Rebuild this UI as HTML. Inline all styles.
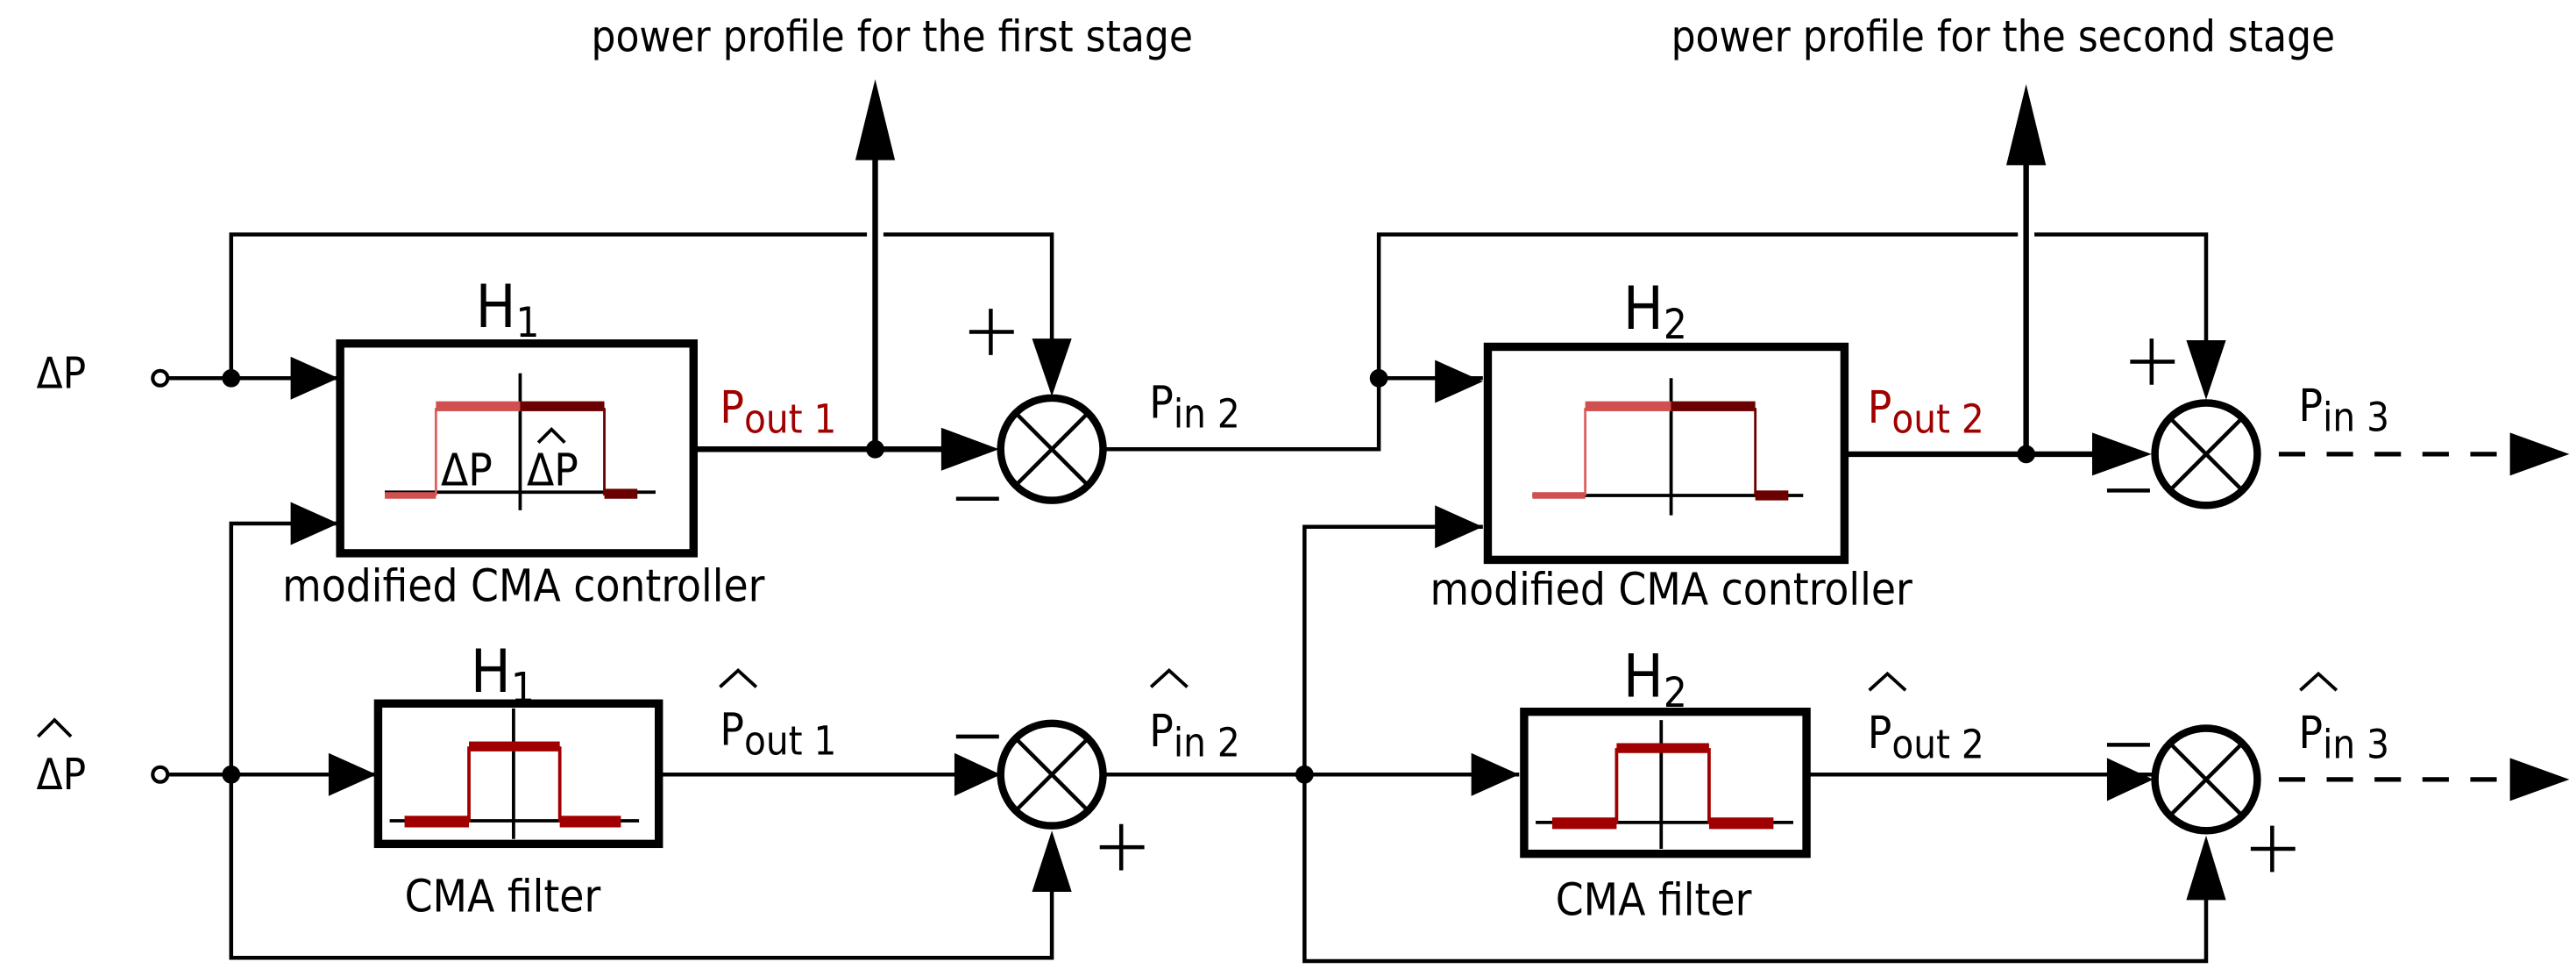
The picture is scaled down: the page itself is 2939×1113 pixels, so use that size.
<!DOCTYPE html>
<html><head><meta charset="utf-8"><style>
html,body{margin:0;padding:0;background:#fff;}
svg{display:block;}
text{font-family:"DejaVu Sans Condensed","Liberation Sans",sans-serif;fill:#000;}
</style></head><body>
<svg width="2939" height="1113" viewBox="0 0 1560 591" preserveAspectRatio="none" xmlns="http://www.w3.org/2000/svg">
<g fill="none" stroke="#000" stroke-width="2.4">
<line x1="100" y1="229" x2="204" y2="229"/>
<path d="M140,229 V142 H525 M535,142 H637 V210"/>
<path d="M140,580 V317 H204"/>
<line x1="100" y1="469" x2="227" y2="469"/>
<path d="M140,469 V580 H637 V512"/>
<line x1="400" y1="469" x2="606" y2="469"/>
<path d="M669,272 H835 V229 H898"/>
<path d="M835,229 V142 H1222 M1232,142 H1336 V210"/>
<path d="M669,469 H920"/>
<path d="M790,469 V319 H898"/>
<path d="M790,469 V582 H1336 V512"/>
<line x1="1096" y1="469" x2="1304" y2="469"/>
</g>
<g fill="#000">
<path d="M176,216 L205,229 L176,242z"/><path d="M176,304 L205,317 L176,330z"/>
<path d="M199,456 L228,469 L199,482z"/>
<path d="M570,259 L605,272 L570,285z"/><path d="M578,456 L606,469 L578,482z"/>
<path d="M625,205 L649,205 L637,240z"/><path d="M625,540 L649,540 L637,503z"/>
<path d="M518,97 L542,97 L530,48z"/>
<path d="M869,218 L898,231 L869,244z"/><path d="M869,306 L898,319 L869,332z"/>
<path d="M891,456 L920,469 L891,482z"/>
<path d="M1267,262 L1303,275 L1267,288z"/><path d="M1276,459 L1304,472 L1276,485z"/>
<path d="M1324,206 L1348,206 L1336,242z"/><path d="M1324,545 L1348,545 L1336,506z"/>
<path d="M1215,100 L1239,100 L1227,51z"/>
<path d="M1520,262 L1556,275 L1520,288z"/><path d="M1520,459 L1556,472 L1520,485z"/>
</g>
<g fill="none" stroke="#000" stroke-width="3.4">
<line x1="422" y1="272" x2="572" y2="272"/>
<line x1="530" y1="272" x2="530" y2="95"/>
<line x1="1119" y1="275" x2="1270" y2="275"/>
<line x1="1227" y1="275" x2="1227" y2="98"/>
</g>
<g stroke="#000" stroke-width="2.8" stroke-dasharray="16,13"><line x1="1380" y1="275" x2="1524" y2="275"/><line x1="1380" y1="472" x2="1524" y2="472"/></g>
<g fill="#000"><circle cx="140" cy="229" r="5.5"/><circle cx="140" cy="469" r="5.5"/><circle cx="530" cy="272" r="5.5"/><circle cx="835" cy="229" r="5.5"/><circle cx="790" cy="469" r="5.5"/><circle cx="1227" cy="275" r="5.5"/></g>
<g fill="#fff" stroke="#000" stroke-width="2.2"><circle cx="97" cy="229" r="4.5"/><circle cx="97" cy="469" r="4.5"/></g>
<g fill="#fff" stroke="#000" stroke-width="4.5">
<circle cx="637" cy="272" r="31"/><circle cx="637" cy="469" r="31"/>
<circle cx="1336" cy="275" r="31"/><circle cx="1336" cy="472" r="31"/>
</g>
<g stroke="#000" stroke-width="2.4">
<path d="M615,250 L659,294 M659,250 L615,294"/><path d="M615,447 L659,491 M659,447 L615,491"/>
<path d="M1314,253 L1358,297 M1358,253 L1314,297"/><path d="M1314,450 L1358,494 M1358,450 L1314,494"/>
</g>
<g stroke="#000" stroke-width="2.4">
<path d="M587,201 H614 M600,187 V215"/><path d="M579,302 H605"/>
<path d="M1290,219 H1317 M1303,205 V233"/><path d="M1276,297 H1302"/>
<path d="M579,446 H605"/><path d="M666,513 H693 M679,499 V527"/>
<path d="M1276,451 H1302"/><path d="M1363,514 H1390 M1376,500 V528"/>
</g>
<g fill="#fff" stroke="#000" stroke-width="5">
<rect x="206" y="208" width="214" height="127"/>
<rect x="229" y="426" width="170" height="85"/>
<rect x="901" y="210" width="216" height="129"/>
<rect x="923" y="431" width="171" height="86"/>
</g>
<g stroke="#000" stroke-width="2"><line x1="233" y1="298" x2="397" y2="298"/><line x1="315" y1="226" x2="315" y2="309"/></g>
<path d="M264,300 V247" stroke="#e06060" stroke-width="1.5" fill="none"/>
<path d="M366,247 V300" stroke="#6b0000" stroke-width="1.5" fill="none"/>
<rect x="233" y="298" width="31" height="4" fill="#d05050"/>
<rect x="264" y="243" width="51" height="6" fill="#d05050"/>
<rect x="315" y="243" width="51" height="6" fill="#6b0000"/>
<rect x="366" y="296" width="20" height="6" fill="#6b0000"/>
<text x="267" y="294" font-size="27">ΔP</text>
<text x="319" y="294" font-size="27">ΔP</text>
<path d="M326,268 L334,260 L342,268" stroke="#000" stroke-width="2" fill="none"/>
<g stroke="#000" stroke-width="2"><line x1="928" y1="300" x2="1092" y2="300"/><line x1="1012" y1="229" x2="1012" y2="312"/></g>
<path d="M960,300 V247" stroke="#e06060" stroke-width="1.5" fill="none"/>
<path d="M1063,247 V300" stroke="#6b0000" stroke-width="1.5" fill="none"/>
<rect x="928" y="298" width="32" height="4" fill="#d05050"/>
<rect x="960" y="243" width="52" height="6" fill="#d05050"/>
<rect x="1012" y="243" width="51" height="6" fill="#6b0000"/>
<rect x="1063" y="297" width="20" height="6" fill="#6b0000"/>
<g stroke="#000" stroke-width="2"><line x1="236" y1="497" x2="387" y2="497"/><line x1="311" y1="429" x2="311" y2="508"/>
<line x1="930" y1="498" x2="1086" y2="498"/><line x1="1006" y1="436" x2="1006" y2="514"/></g>
<path d="M245,497 H284 V453 H339 V497 H376" stroke="#a00000" stroke-width="2" fill="none"/>
<rect x="245" y="494" width="39" height="7" fill="#a00000"/><rect x="339" y="494" width="37" height="7" fill="#a00000"/><rect x="284" y="449" width="55" height="6" fill="#a00000"/>
<path d="M940,498 H979 V454 H1035 V498 H1074" stroke="#a00000" stroke-width="2" fill="none"/>
<rect x="940" y="495" width="39" height="7" fill="#a00000"/><rect x="1035" y="495" width="39" height="7" fill="#a00000"/><rect x="979" y="450" width="56" height="6" fill="#a00000"/>
<text x="358" y="31" font-size="26">power profile for the first stage</text>
<text x="1012" y="31" font-size="26">power profile for the second stage</text>
<text x="22" y="235" font-size="26">ΔP</text>
<text x="22" y="478" font-size="26">ΔP</text>
<text x="436" y="451" font-size="27">P<tspan font-size="24" dy="6">out 1</tspan></text>
<text x="436" y="256" font-size="27" style="fill:#a00000">P<tspan font-size="24" dy="6">out 1</tspan></text>
<text x="1131" y="256" font-size="27" style="fill:#a00000">P<tspan font-size="24" dy="6">out 2</tspan></text>
<text x="696" y="253" font-size="27">P<tspan font-size="24" dy="6">in 2</tspan></text>
<text x="1392" y="255" font-size="27">P<tspan font-size="24" dy="6">in 3</tspan></text>
<text x="696" y="452" font-size="27">P<tspan font-size="24" dy="6">in 2</tspan></text>
<text x="1131" y="453" font-size="27">P<tspan font-size="24" dy="6">out 2</tspan></text>
<text x="1392" y="453" font-size="27">P<tspan font-size="24" dy="6">in 3</tspan></text>
<text x="288" y="198" font-size="36">H<tspan font-size="25" dy="6">1</tspan></text>
<text x="285" y="419" font-size="36">H<tspan font-size="25" dy="6">1</tspan></text>
<text x="983" y="199" font-size="36">H<tspan font-size="25" dy="6">2</tspan></text>
<text x="983" y="422" font-size="36">H<tspan font-size="25" dy="6">2</tspan></text>
<text x="171" y="364" font-size="27">modified CMA controller</text>
<text x="866" y="366" font-size="27">modified CMA controller</text>
<text x="245" y="552" font-size="27">CMA filter</text>
<text x="942" y="554" font-size="27">CMA filter</text>
<g stroke="#000" stroke-width="2" fill="none">
<path d="M23,446 L33,436 L43,446"/>
<path d="M436,416 L447,406 L458,416"/><path d="M697,416 L708,406 L719,416"/>
<path d="M1132,418 L1143,408 L1154,418"/><path d="M1393,418 L1404,408 L1415,418"/>
</g>
</svg>
</body></html>
